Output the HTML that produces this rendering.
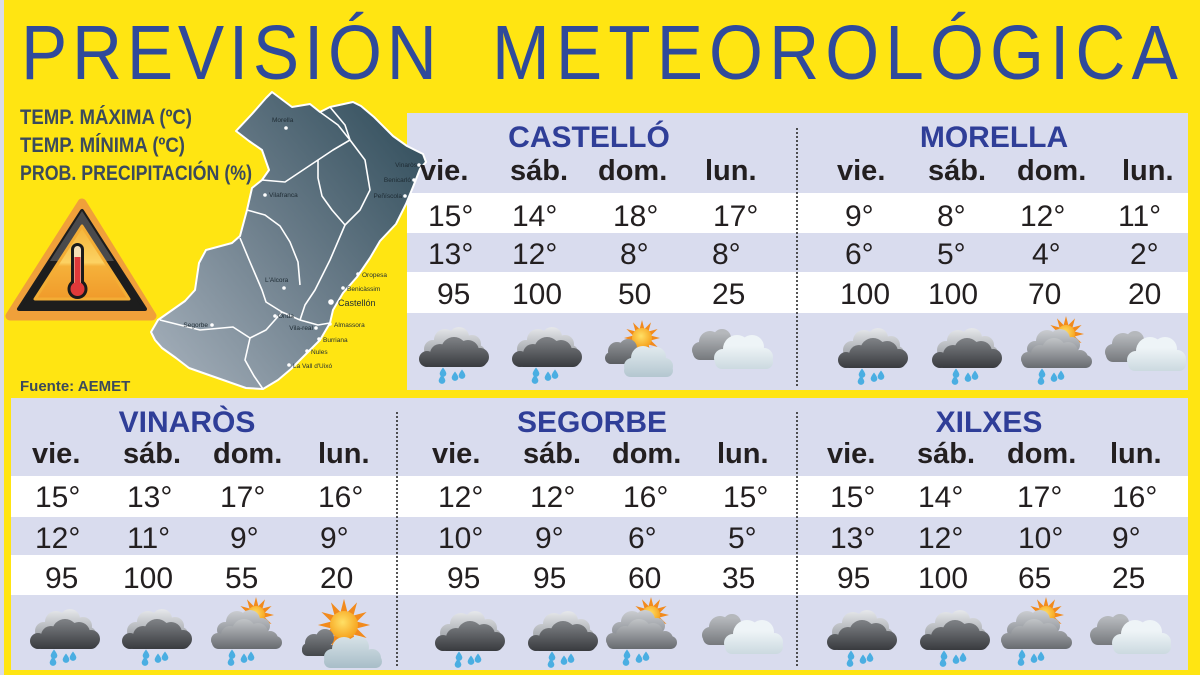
<!DOCTYPE html>
<html><head><meta charset="utf-8">
<style>html,body{margin:0;padding:0;background:#ffe512;}svg{display:block}</style>
</head><body>
<svg width="1200" height="675" viewBox="0 0 1200 675" xmlns="http://www.w3.org/2000/svg" font-family="'Liberation Sans', Arial, sans-serif">
<defs>
  <linearGradient id="gMap" x1="150" y1="360" x2="430" y2="140" gradientUnits="userSpaceOnUse">
    <stop offset="0" stop-color="#a3aeb9"/><stop offset="0.5" stop-color="#6b7d8a"/><stop offset="1" stop-color="#34505e"/>
  </linearGradient>
  <linearGradient id="gLG" x1="0" y1="1" x2="0" y2="34" gradientUnits="userSpaceOnUse">
    <stop offset="0" stop-color="#e4e6e9"/><stop offset="1" stop-color="#8e9298"/>
  </linearGradient>
  <linearGradient id="gDk" x1="0" y1="12" x2="0" y2="42" gradientUnits="userSpaceOnUse">
    <stop offset="0" stop-color="#7b7e82"/><stop offset="1" stop-color="#34363a"/>
  </linearGradient>
  <linearGradient id="gDk2" x1="0" y1="5" x2="0" y2="55" gradientUnits="userSpaceOnUse">
    <stop offset="0" stop-color="#b5b8bc"/><stop offset="1" stop-color="#404347"/>
  </linearGradient>
  <linearGradient id="gBl" x1="0" y1="18" x2="0" y2="66" gradientUnits="userSpaceOnUse">
    <stop offset="0" stop-color="#eef4f7"/><stop offset="1" stop-color="#a6bcc7"/>
  </linearGradient>
  <linearGradient id="gMid" x1="0" y1="14" x2="0" y2="50" gradientUnits="userSpaceOnUse">
    <stop offset="0" stop-color="#d0d3d6"/><stop offset="1" stop-color="#64686d"/>
  </linearGradient>
  <radialGradient id="gSun" cx="0.45" cy="0.4" r="0.6">
    <stop offset="0" stop-color="#ffe066"/><stop offset="1" stop-color="#f6a21d"/>
  </radialGradient>
  <linearGradient id="gTriIn" x1="0" y1="225" x2="0" y2="300" gradientUnits="userSpaceOnUse">
    <stop offset="0" stop-color="#f4b236"/><stop offset="0.5" stop-color="#fcd263"/><stop offset="0.55" stop-color="#f5b13a"/><stop offset="1" stop-color="#f09a2a"/>
  </linearGradient>

  <path id="drop" d="M0,-4.5 Q3.3,-0.3 3.3,1.6 A3.3,3.3 0 0 1 -3.3,1.6 Q-3.3,-0.3 0,-4.5Z" fill="#4aaee2"/>

  <g id="rays" fill="#f28a1c">
    <polygon points="-2.6,-8 2.6,-8 0,-18"/>
    <polygon points="-2.6,-8 2.6,-8 0,-18" transform="rotate(30)"/>
    <polygon points="-2.6,-8 2.6,-8 0,-18" transform="rotate(60)"/>
    <polygon points="-2.6,-8 2.6,-8 0,-18" transform="rotate(90)"/>
    <polygon points="-2.6,-8 2.6,-8 0,-18" transform="rotate(120)"/>
    <polygon points="-2.6,-8 2.6,-8 0,-18" transform="rotate(150)"/>
    <polygon points="-2.6,-8 2.6,-8 0,-18" transform="rotate(180)"/>
    <polygon points="-2.6,-8 2.6,-8 0,-18" transform="rotate(210)"/>
    <polygon points="-2.6,-8 2.6,-8 0,-18" transform="rotate(240)"/>
    <polygon points="-2.6,-8 2.6,-8 0,-18" transform="rotate(270)"/>
    <polygon points="-2.6,-8 2.6,-8 0,-18" transform="rotate(300)"/>
    <polygon points="-2.6,-8 2.6,-8 0,-18" transform="rotate(330)"/>
  </g>

  <g id="iR">
    <g fill="url(#gLG)">
      <circle cx="27" cy="13" r="11"/><circle cx="41" cy="10" r="10"/><circle cx="54" cy="17" r="9"/>
      <circle cx="15" cy="22" r="9"/><circle cx="60" cy="25" r="7"/>
    </g>
    <g fill="url(#gDk)">
      <circle cx="36" cy="23" r="13"/><circle cx="22" cy="27" r="10"/><circle cx="50" cy="24" r="11"/>
      <circle cx="62" cy="30" r="9"/><circle cx="9" cy="32" r="8"/>
      <rect x="5" y="26" width="64" height="14" rx="7"/>
    </g>
    <use href="#drop" x="25" y="45"/><use href="#drop" x="24" y="52"/>
    <use href="#drop" x="37" y="49"/><use href="#drop" x="44" y="47"/>
  </g>

  <g id="iC">
    <g fill="url(#gDk2)">
      <circle cx="18" cy="14" r="11"/><circle cx="30" cy="10" r="9"/><circle cx="8" cy="22" r="8"/>
      <rect x="1" y="18" width="38" height="14" rx="7"/>
    </g>
    <g fill="url(#gBl)">
      <circle cx="45" cy="21" r="14"/><circle cx="60" cy="19" r="12"/><circle cx="31" cy="30" r="9"/>
      <circle cx="72" cy="29" r="9"/><rect x="23" y="27" width="58" height="14" rx="7"/>
    </g>
  </g>

  <g id="iS">
    <use href="#rays" transform="translate(37,18)"/>
    <circle cx="37" cy="18" r="10" fill="url(#gSun)"/>
    <g fill="url(#gDk2)">
      <circle cx="12" cy="31" r="9"/><circle cx="23" cy="28" r="9"/><circle cx="6" cy="38" r="6"/>
      <rect x="1" y="33" width="33" height="11" rx="5.5"/>
    </g>
    <g fill="url(#gBl)">
      <circle cx="38" cy="38" r="12"/><circle cx="51" cy="37" r="10"/><circle cx="27" cy="46" r="8"/>
      <circle cx="60" cy="46" r="8"/><rect x="19" y="44" width="49" height="13" rx="6.5"/>
    </g>
  </g>

  <g id="iSR">
    <use href="#rays" transform="translate(48,15)"/>
    <circle cx="48" cy="15" r="9" fill="url(#gSun)"/>
    <g fill="url(#gLG)">
      <circle cx="29" cy="22" r="11"/><circle cx="42" cy="20" r="10"/><circle cx="54" cy="26" r="8"/>
      <circle cx="17" cy="30" r="8"/>
    </g>
    <g fill="url(#gMid)">
      <circle cx="36" cy="31" r="12"/><circle cx="22" cy="35" r="9"/><circle cx="50" cy="33" r="10"/>
      <circle cx="62" cy="39" r="8"/><circle cx="10" cy="40" r="7"/>
      <rect x="4" y="36" width="70" height="13" rx="6.5"/>
    </g>
    <use href="#drop" x="24" y="54"/><use href="#drop" x="23" y="61"/>
    <use href="#drop" x="36" y="58"/><use href="#drop" x="43" y="56"/>
  </g>

  <g id="iS2">
    <use href="#rays" transform="translate(44,22) scale(1.45)"/>
    <circle cx="44" cy="22" r="14" fill="url(#gSun)"/>
    <g fill="url(#gDk2)">
      <circle cx="14" cy="40" r="9"/><circle cx="25" cy="35" r="9"/><circle cx="8" cy="46" r="6"/>
      <rect x="2" y="42" width="36" height="11" rx="5.5"/>
    </g>
    <g fill="url(#gBl)">
      <circle cx="44" cy="46" r="12"/><circle cx="58" cy="44" r="11"/><circle cx="32" cy="54" r="8"/>
      <circle cx="72" cy="55" r="9"/><rect x="24" y="52" width="58" height="13" rx="6.5"/>
    </g>
  </g>
</defs>

<rect x="0" y="0" width="1200" height="675" fill="#ffe512"/>
<rect x="0" y="0" width="4" height="675" fill="#d9dbeb"/>

<g fill="#2f4a9b" font-size="77" transform="scale(0.9,1)">
  <text x="23.3" y="79" textLength="462" lengthAdjust="spacing">PREVISIÓN</text>
  <text x="546.7" y="79" textLength="762" lengthAdjust="spacing">METEOROLÓGICA</text>
</g>

<g fill="#3b4a5c" font-size="21" font-weight="bold">
  <text x="20" y="124" textLength="172" lengthAdjust="spacingAndGlyphs">TEMP. MÁXIMA (ºC)</text>
  <text x="20" y="152" textLength="165" lengthAdjust="spacingAndGlyphs">TEMP. MÍNIMA (ºC)</text>
  <text x="20" y="180" textLength="232" lengthAdjust="spacingAndGlyphs">PROB. PRECIPITACIÓN (%)</text>
</g>

<polygon points="82,203 10,316 152,316" fill="#f0a03a" stroke="#f0a03a" stroke-width="9" stroke-linejoin="round"/>
<polygon points="82,211 19,309 145,309" fill="#1d1d1d" stroke="#1d1d1d" stroke-width="4" stroke-linejoin="round"/>
<polygon points="82,211 50,261 114,261" fill="#4a4a4c"/>
<polygon points="82,226 35,299 129,299" fill="url(#gTriIn)" stroke="#f3ad35" stroke-width="3" stroke-linejoin="round"/>
<rect x="71" y="243" width="13" height="46" rx="6.5" fill="#1a1a1a"/>
<circle cx="77.5" cy="289" r="10" fill="#1a1a1a"/>
<rect x="74" y="246" width="7" height="42" rx="3.5" fill="#f6dfb6"/>
<rect x="74.5" y="257" width="6" height="32" fill="#e0393a"/>
<circle cx="77.5" cy="289" r="7" fill="#e0393a"/>

<text x="20" y="391" fill="#3b4a5c" font-size="15" font-weight="bold">Fuente: AEMET</text>

<rect x="407" y="113" width="781" height="277" fill="#d9dcee"/>
<rect x="407" y="193" width="781" height="40" fill="#ffffff"/>
<rect x="407" y="272" width="781" height="41" fill="#ffffff"/>
<line x1="797" y1="128" x2="797" y2="386" stroke="#2a2a2a" stroke-width="1.6" stroke-dasharray="2 2"/>

<rect x="11" y="398" width="1177" height="272" fill="#d9dcee"/>
<rect x="11" y="476" width="1177" height="41" fill="#ffffff"/>
<rect x="11" y="555" width="1177" height="40" fill="#ffffff"/>
<line x1="397" y1="412" x2="397" y2="668" stroke="#2a2a2a" stroke-width="1.6" stroke-dasharray="2 2"/>
<line x1="797" y1="412" x2="797" y2="668" stroke="#2a2a2a" stroke-width="1.6" stroke-dasharray="2 2"/>

<polygon fill="url(#gMap)" stroke="#ffffff" stroke-width="2" stroke-linejoin="round" points="236,131 252,114 266,98 272,92 292,107 310,104 320,112 330,107 353,102 361,106 374,117 393,136 407,146 423,154 426,162 420,169 413,187 406,204 396,224 380,241 370,258 357,277 343,293 333,310 330,323 320,340 307,353 291,369 278,380 263,389 246,388 226,381 206,374 189,368 176,358 162,348 155,340 151,332 158,320 185,301 195,290 199,263 206,250 232,243 240,236 247,210 252,188 262,180 269,170 262,150 249,141"/>
<g fill="none" stroke="#ffffff" stroke-width="1.6" stroke-linejoin="round">
  <polyline points="262,180 285,182 300,172 318,160 333,150 350,140 338,125 320,112"/>
  <polyline points="330,107 345,125 350,140 365,160 370,190 360,210 345,225"/>
  <polyline points="318,160 318,178 322,196 332,210 345,225 330,260 315,290 305,305 300,320"/>
  <polyline points="247,210 265,215 280,226 290,242 298,262 300,285"/>
  <polyline points="240,238 250,262 262,290 266,302 282,312 300,320 318,325 330,323"/>
  <polyline points="160,320 200,330 233,327 250,338 266,330 282,312"/>
  <polyline points="250,338 245,360 254,376 263,389"/>
</g>
<g fill="#ffffff">
  <circle cx="286" cy="128" r="1.8"/><circle cx="265" cy="195" r="1.8"/><circle cx="419" cy="165" r="1.8"/>
  <circle cx="414" cy="180" r="1.8"/><circle cx="405" cy="196" r="1.8"/><circle cx="284" cy="288" r="1.8"/>
  <circle cx="358" cy="274" r="1.8"/><circle cx="343" cy="288" r="1.8"/><circle cx="331" cy="302" r="2.8"/>
  <circle cx="330" cy="324" r="1.8"/><circle cx="316" cy="328" r="1.8"/><circle cx="275" cy="316" r="1.8"/>
  <circle cx="319" cy="339" r="1.8"/><circle cx="307" cy="351" r="1.8"/><circle cx="289" cy="365" r="1.8"/>
  <circle cx="212" cy="325" r="1.8"/>
</g>
<g fill="#1e2b33" font-size="6.5">
  <text x="272" y="122">Morella</text>
  <text x="269" y="197">Vilafranca</text>
  <text x="417" y="167" text-anchor="end">Vinaròs</text>
  <text x="411" y="182" text-anchor="end">Benicarló</text>
  <text x="402" y="198" text-anchor="end">Peñíscola</text>
  <text x="265" y="282">L'Alcora</text>
  <text x="362" y="277">Oropesa</text>
  <text x="347" y="291">Benicàssim</text>
  <text x="338" y="306" font-size="9">Castellón</text>
  <text x="334" y="327">Almassora</text>
  <text x="313" y="330" text-anchor="end">Vila-real</text>
  <text x="278" y="318">Onda</text>
  <text x="323" y="342">Burriana</text>
  <text x="311" y="354">Nules</text>
  <text x="293" y="368">La Vall d'Uixó</text>
  <text x="208" y="327" text-anchor="end">Segorbe</text>
</g>

<g fill="#2f3e98" font-size="30" font-weight="bold" text-anchor="middle">
  <text x="589" y="147">CASTELLÓ</text>
  <text x="994" y="147">MORELLA</text>
  <text x="187" y="432">VINARÒS</text>
  <text x="592" y="432">SEGORBE</text>
  <text x="989" y="432">XILXES</text>
</g>

<g fill="#231f20" font-size="29" font-weight="bold">
  <text x="420" y="180">vie.</text><text x="510" y="180">sáb.</text><text x="598" y="180">dom.</text><text x="705" y="180">lun.</text>
  <text x="837" y="180">vie.</text><text x="928" y="180">sáb.</text><text x="1017" y="180">dom.</text><text x="1122" y="180">lun.</text>
  <text x="32" y="463">vie.</text><text x="123" y="463">sáb.</text><text x="213" y="463">dom.</text><text x="318" y="463">lun.</text>
  <text x="432" y="463">vie.</text><text x="523" y="463">sáb.</text><text x="612" y="463">dom.</text><text x="717" y="463">lun.</text>
  <text x="827" y="463">vie.</text><text x="917" y="463">sáb.</text><text x="1007" y="463">dom.</text><text x="1110" y="463">lun.</text>
</g>

<g fill="#231f20" font-size="30">
  <text x="428" y="226">15°</text><text x="512" y="226">14°</text><text x="613" y="226">18°</text><text x="713" y="226">17°</text>
  <text x="428" y="264">13°</text><text x="512" y="264">12°</text><text x="620" y="264">8°</text><text x="712" y="264">8°</text>
  <text x="437" y="304">95</text><text x="512" y="304">100</text><text x="618" y="304">50</text><text x="712" y="304">25</text>

  <text x="845" y="226">9°</text><text x="937" y="226">8°</text><text x="1020" y="226">12°</text><text x="1118" y="226">11°</text>
  <text x="845" y="264">6°</text><text x="937" y="264">5°</text><text x="1032" y="264">4°</text><text x="1130" y="264">2°</text>
  <text x="840" y="304">100</text><text x="928" y="304">100</text><text x="1028" y="304">70</text><text x="1128" y="304">20</text>

  <text x="35" y="507">15°</text><text x="127" y="507">13°</text><text x="220" y="507">17°</text><text x="318" y="507">16°</text>
  <text x="35" y="548">12°</text><text x="127" y="548">11°</text><text x="230" y="548">9°</text><text x="320" y="548">9°</text>
  <text x="45" y="588">95</text><text x="123" y="588">100</text><text x="225" y="588">55</text><text x="320" y="588">20</text>

  <text x="438" y="507">12°</text><text x="530" y="507">12°</text><text x="623" y="507">16°</text><text x="723" y="507">15°</text>
  <text x="438" y="548">10°</text><text x="535" y="548">9°</text><text x="628" y="548">6°</text><text x="728" y="548">5°</text>
  <text x="447" y="588">95</text><text x="533" y="588">95</text><text x="628" y="588">60</text><text x="722" y="588">35</text>

  <text x="830" y="507">15°</text><text x="918" y="507">14°</text><text x="1017" y="507">17°</text><text x="1112" y="507">16°</text>
  <text x="830" y="548">13°</text><text x="918" y="548">12°</text><text x="1018" y="548">10°</text><text x="1112" y="548">9°</text>
  <text x="837" y="588">95</text><text x="918" y="588">100</text><text x="1018" y="588">65</text><text x="1112" y="588">25</text>
</g>

<use href="#iR" transform="translate(418,327)"/>
<use href="#iR" transform="translate(511,327)"/>
<use href="#iS" transform="translate(605,320)"/>
<use href="#iC" transform="translate(692,328)"/>

<use href="#iR" transform="translate(837,328)"/>
<use href="#iR" transform="translate(931,328)"/>
<use href="#iSR" transform="translate(1018,319)"/>
<use href="#iC" transform="translate(1105,330)"/>

<use href="#iR" transform="translate(29,609)"/>
<use href="#iR" transform="translate(121,609)"/>
<use href="#iSR" transform="translate(208,600)"/>
<use href="#iS2" transform="translate(300,603)"/>

<use href="#iR" transform="translate(434,611)"/>
<use href="#iR" transform="translate(527,611)"/>
<use href="#iSR" transform="translate(603,600)"/>
<use href="#iC" transform="translate(702,613)"/>

<use href="#iR" transform="translate(826,610)"/>
<use href="#iR" transform="translate(919,610)"/>
<use href="#iSR" transform="translate(998,600)"/>
<use href="#iC" transform="translate(1090,613)"/>
</svg>
</body></html>
